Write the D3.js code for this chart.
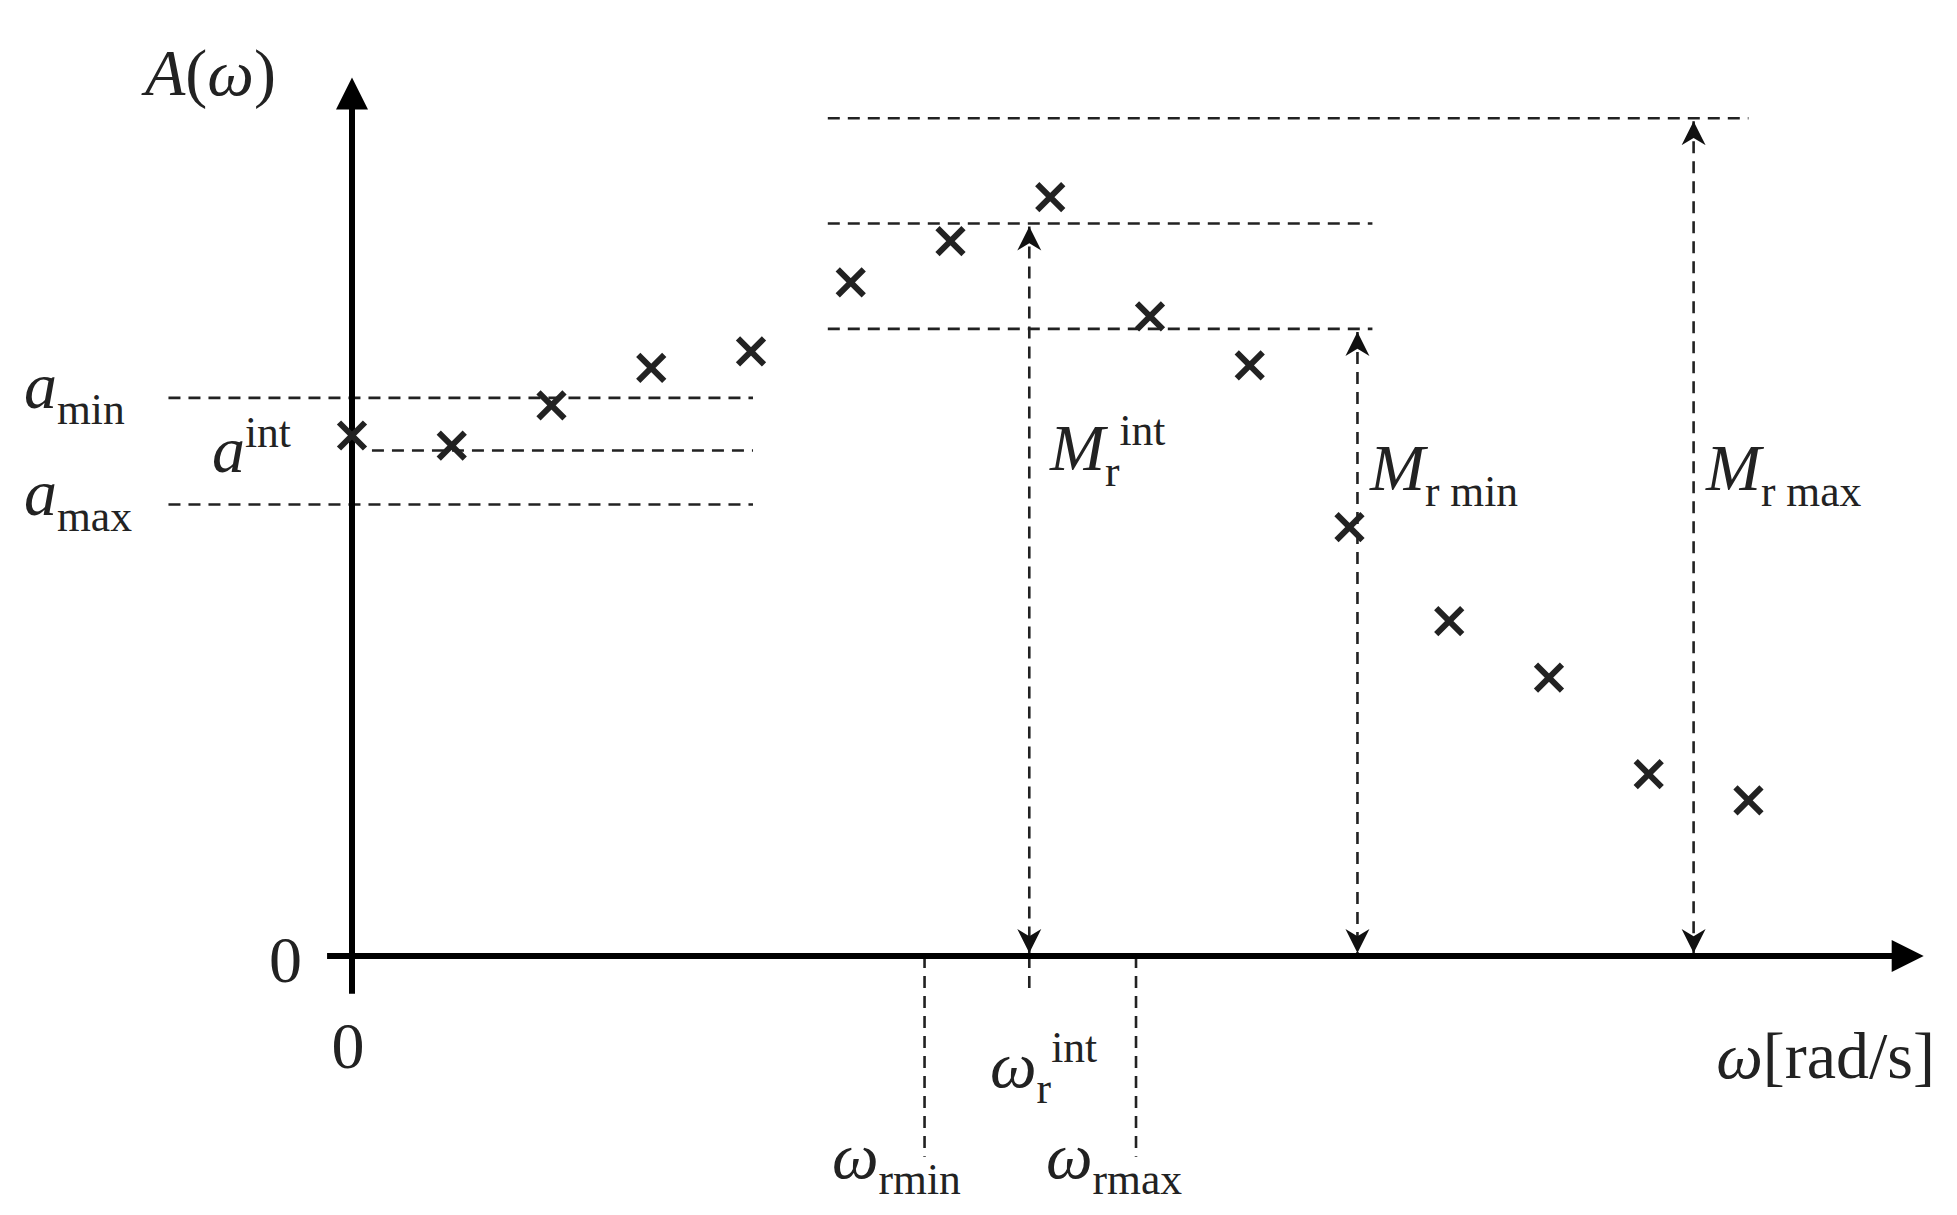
<!DOCTYPE html>
<html><head><meta charset="utf-8">
<script src="https://cdn.jsdelivr.net/npm/d3@7"></script>
<style>body{margin:0;background:#fff}text{font-family:"Liberation Serif","DejaVu Serif",serif;fill:#222}</style>
</head><body><div id="screen"></div>
<script>
'use strict'
// samples of A(ω), x in sample index units
const sampleIdx = [0, 1, 2, 3, 4, 5, 6, 7, 8, 9, 10, 11, 12, 13, 14]
const amplitude = [4.15, 4.07, 4.39, 4.69, 4.82, 5.37, 5.70, 6.05, 5.10, 4.71, 3.42, 2.67, 2.22, 1.45, 1.24]
// horizontal reference levels
const levelsLeft = [{ name: 'amin', a: 4.45, x0: -1.84 }, { name: 'aint', a: 4.03, x0: 0.2 }, { name: 'amax', a: 3.60, x0: -1.84 }]
const levelsRight = [{ name: 'Mrmax', a: 6.68, x1: 14.0 }, { name: 'Mrint', a: 5.84, x1: 10.23 }, { name: 'Mrmin', a: 5.00, x1: 10.23 }]
// arrows: frequency position and level
const arrows = [{ w: 6.79, a: 5.84 }, { w: 10.08, a: 5.00 }, { w: 13.45, a: 6.68 }]
const omegaMarks = [{ w: 5.74, len: 1.6 }, { w: 7.86, len: 1.6 }, { w: 6.79, len: 0.3 }]

const width = 1957, height = 1215
const svg = d3.select('#screen').append('svg').attr('width', width).attr('height', height)
const x = d3.scaleLinear().domain([0, 15.84]).range([352, 1932])
const y = d3.scaleLinear().domain([0, 7.12]).range([956, 63])

const defs = svg.append('defs')
defs.append('marker').attr('id', 'ah').attr('viewBox', '0 0 10 10').attr('refX', 10).attr('refY', 5)
  .attr('markerWidth', 24).attr('markerHeight', 30).attr('markerUnits', 'userSpaceOnUse').attr('orient', 'auto-start-reverse')
  .append('path').attr('d', 'M0,0L10,5L0,10L3,5Z').attr('fill', '#111')
defs.append('marker').attr('id', 'big').attr('viewBox', '0 0 10 10').attr('refX', 2).attr('refY', 5)
  .attr('markerWidth', 44).attr('markerHeight', 32).attr('markerUnits', 'userSpaceOnUse').attr('orient', 'auto')
  .append('path').attr('d', 'M0,0L10,5L0,10Z').attr('fill', '#000')

const dash = '12,8'
const g = svg.append('g').attr('stroke', '#222').attr('stroke-width', 2.6).attr('stroke-dasharray', dash).attr('fill', 'none')
levelsLeft.forEach(l => g.append('line').attr('x1', x(l.x0)).attr('x2', x(4.02)).attr('y1', y(l.a)).attr('y2', y(l.a)))
levelsRight.forEach(l => g.append('line').attr('x1', x(4.77)).attr('x2', x(l.x1)).attr('y1', y(l.a)).attr('y2', y(l.a)))
omegaMarks.forEach(m => g.append('line').attr('x1', x(m.w)).attr('x2', x(m.w)).attr('y1', y(0)).attr('y2', y(-m.len)))
arrows.forEach(a => g.append('line').attr('x1', x(a.w)).attr('x2', x(a.w)).attr('y1', y(a.a) + 3).attr('y2', y(0) - 3)
  .attr('marker-start', 'url(#ah)').attr('marker-end', 'url(#ah)'))

// axes
svg.append('line').attr('x1', x(-0.25)).attr('x2', x(15.5)).attr('y1', y(0)).attr('y2', y(0))
  .attr('stroke', '#000').attr('stroke-width', 6).attr('marker-end', 'url(#big)')
svg.append('line').attr('x1', x(0)).attr('x2', x(0)).attr('y1', y(-0.3)).attr('y2', y(6.8))
  .attr('stroke', '#000').attr('stroke-width', 6).attr('marker-end', 'url(#big)')

// cross markers
const r = 13
svg.append('g').selectAll('path').data(sampleIdx).join('path')
  .attr('d', i => { const cx = x(i), cy = y(amplitude[i]); return `M${cx - r},${cy - r}L${cx + r},${cy + r}M${cx - r},${cy + r}L${cx + r},${cy - r}` })
  .attr('stroke', '#222').attr('stroke-width', 6)

// labels: main letter with optional subscript and/or superscript stacked
function label (px, py, main, sub, sup, size, anchor) {
  const t = svg.append('text').attr('x', px).attr('y', py).attr('font-size', size).attr('text-anchor', anchor || 'start')
  t.append('tspan').attr('font-style', 'italic').text(main)
  const s = size * 0.66
  if (sub && sup) {
    t.append('tspan').attr('font-size', s).attr('dy', size * 0.24).text(sub)
    t.append('tspan').attr('font-size', s).attr('dy', -size * 0.62).text(sup)
  } else if (sup) {
    t.append('tspan').attr('font-size', s).attr('dy', -size * 0.38).text(sup)
  } else if (sub) {
    t.append('tspan').attr('font-size', s).attr('dy', size * 0.24).text(sub)
  }
  return t
}
const fs = 66
svg.append('text').attr('x', 145).attr('y', 95).attr('font-size', fs).html('<tspan font-style="italic">A</tspan>(<tspan font-style="italic">ω</tspan>)')
label(24, 408, 'a', 'min', null, fs)
label(212, 472, 'a', null, 'int', fs)
label(24, 515, 'a', 'max', null, fs)
svg.append('text').attr('x', 302).attr('y', 982).attr('font-size', fs).attr('text-anchor', 'end').text('0')
svg.append('text').attr('x', 348).attr('y', 1068).attr('font-size', fs).attr('text-anchor', 'middle').text('0')
label(1050, 470, 'M', 'r', 'int', fs)
label(1370, 490, 'M', 'r min', null, fs)
label(1706, 490, 'M', 'r max', null, fs)
label(990, 1087, 'ω', 'r', 'int', fs)
label(832, 1178, 'ω', 'rmin', null, fs)
label(1046, 1178, 'ω', 'rmax', null, fs)
svg.append('text').attr('x', 1935).attr('y', 1078).attr('font-size', fs).attr('text-anchor', 'end')
  .html('<tspan font-style="italic">ω</tspan>[rad/s]')
</script></body></html>
